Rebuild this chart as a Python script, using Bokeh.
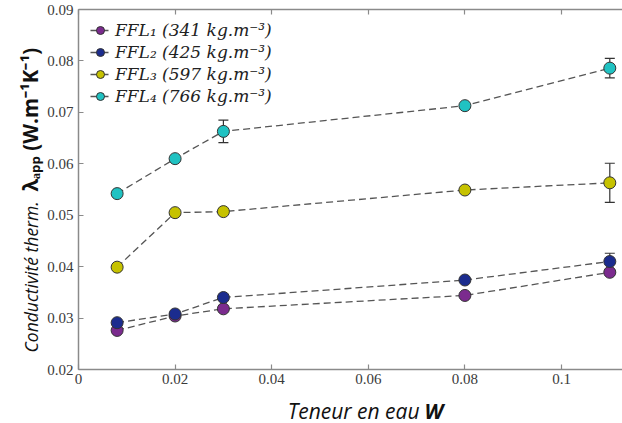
import math
from bokeh.plotting import figure
from bokeh.models import (ColumnDataSource, Whisker, TeeHead, Legend, LegendItem,
                          LinearAxis, FixedTicker, Range1d, Label)
from bokeh.embed import file_html
from bokeh.resources import INLINE

# ---- data ----
w = [0.008, 0.02, 0.03, 0.08, 0.11]
ffl1 = [0.0276, 0.0304, 0.0318, 0.0344, 0.0389]
ffl2 = [0.0291, 0.0308, 0.0340, 0.0374, 0.0410]
ffl3 = [0.0399, 0.0505, 0.0507, 0.0549, 0.0563]
ffl4 = [0.0542, 0.0610, 0.0663, 0.0713, 0.0786]
err1 = [0, 0, 0, 0, 0.0005]
err2 = [0, 0, 0, 0, 0.0016]
err3 = [0, 0, 0, 0, 0.0038]
err4 = [0, 0, 0.0022, 0, 0.0019]
labels = ["FFL\u2081 (341 kg.m\u207b\u00b3)", "FFL\u2082 (425 kg.m\u207b\u00b3)",
          "FFL\u2083 (597 kg.m\u207b\u00b3)", "FFL\u2084 (766 kg.m\u207b\u00b3)"]
colors = ["#7b2b8e", "#1b2c8e", "#c6c200", "#20c2c2"]
x_ticks = [0, 0.02, 0.04, 0.06, 0.08, 0.1]
x_tick_labels = ["0", "0.02", "0.04", "0.06", "0.08", "0.1"]
y_ticks = [0.02, 0.03, 0.04, 0.05, 0.06, 0.07, 0.08, 0.09]
y_tick_labels = ["0.02", "0.03", "0.04", "0.05", "0.06", "0.07", "0.08", "0.09"]
x_title = "Teneur en eau"
x_title_bold = "W"
y_title = "Conductivit\u00e9 therm."
y_title_bold = "\u03bb\u2090\u209a\u209a (W.m\u207b\u00b9K\u207b\u00b9)"

# ---- layout: the frame covers the whole canvas, axes are placed at fixed data positions ----
W, H = 622, 423
left_px, top_px, bottom_px = 78, 9, 369
x0, x1 = 0.0, 0.1
y0, y1 = 0.02, 0.09
kx = (561 - left_px) / (x1 - x0)          # px per unit
ky = (bottom_px - top_px) / (y1 - y0)
xs, xe = x0 - left_px / kx, x0 + (W - left_px) / kx
ys_, ye = y0 - (H - bottom_px) / ky, y1 + top_px / ky

p = figure(width=W, height=H, output_backend="svg", toolbar_location=None,
           x_range=Range1d(xs, xe), y_range=Range1d(ys_, ye),
           x_axis_location=None, y_axis_location=None,
           min_border=0)
p.outline_line_color = None
p.grid.visible = False
p.background_fill_color = "white"
p.border_fill_color = "white"

def style_axis(ax, ticks, tlabels, show_labels=True):
    ax.ticker = FixedTicker(ticks=ticks)
    ax.major_label_overrides = {t: (l if show_labels else "") for t, l in zip(ticks, tlabels)}
    ax.axis_line_color = "#8a8a8a"
    ax.axis_line_width = 1.5
    ax.major_tick_line_color = "#8a8a8a"
    ax.major_tick_line_width = 1.2
    ax.major_tick_in = 5
    ax.major_tick_out = 0
    ax.minor_tick_line_color = None
    ax.major_label_text_font = "Liberation Serif"
    ax.major_label_text_font_size = "15px"
    ax.major_label_text_color = "#3a3a3a"

xa = LinearAxis(fixed_location=y0, bounds=(x0, xe))
style_axis(xa, x_ticks, x_tick_labels)
xa.major_label_standoff = 4
p.add_layout(xa, "below")

ya = LinearAxis(fixed_location=x0, bounds=(y0, y1))
style_axis(ya, y_ticks, y_tick_labels)
ya.major_label_standoff = 5
p.add_layout(ya, "left")

ta = LinearAxis(fixed_location=y1, bounds=(x0, xe))
style_axis(ta, x_ticks, x_tick_labels, show_labels=False)
ta.major_label_text_font_size = "0px"
ta.major_label_standoff = 0
p.add_layout(ta, "above")

items = []
for ys, errs, col, lab in zip([ffl1, ffl2, ffl3, ffl4], [err1, err2, err3, err4], colors, labels):
    src = ColumnDataSource(dict(x=w, y=ys))
    ex = [x for x, e in zip(w, errs) if e > 0]
    ey = [y for y, e in zip(ys, errs) if e > 0]
    ee = [e for e in errs if e > 0]
    esrc = ColumnDataSource(dict(x=ex, lo=[y - e for y, e in zip(ey, ee)], hi=[y + e for y, e in zip(ey, ee)]))
    wh = Whisker(source=esrc, base="x", lower="lo", upper="hi",
                 line_color="#333333", line_width=1.2,
                 upper_head=TeeHead(size=10, line_color="#333333", line_width=1.2),
                 lower_head=TeeHead(size=10, line_color="#333333", line_width=1.2))
    p.add_layout(wh)
    ln = p.line("x", "y", source=src, line_color="#555555", line_width=1.3, line_dash="7 4")
    sc = p.scatter("x", "y", source=src, size=12, fill_color=col, line_color="#333333", line_width=1)
    items.append(LegendItem(label=lab, renderers=[ln, sc]))

leg = Legend(items=items, location=(90, H - 19 - 4 * 22), margin=0, padding=0,
             background_fill_alpha=0, border_line_color=None,
             label_text_font="DejaVu Serif", label_text_font_style="italic",
             label_text_font_size="17px", label_text_color="#222222",
             label_height=22, glyph_height=22, glyph_width=20, spacing=0,
             label_standoff=5)
p.add_layout(leg)

# axis titles (mixed styles), placed in screen pixels converted to data units
def dx(px):
    return xs + px / kx

def dy(py):
    return ye - py / ky

p.add_layout(Label(x=dx(419), y=dy(410), text=x_title, text_font="Open Sans",
                   text_font_style="italic", text_font_size="21px", text_color="#111111",
                   text_baseline="alphabetic", text_align="right"))
p.add_layout(Label(x=dx(424), y=dy(410), text=x_title_bold, text_font="Open Sans",
                   text_font_style="bold italic", text_font_size="21px", text_color="#111111",
                   text_baseline="alphabetic", text_align="left"))
p.add_layout(Label(x=dx(30), y=dy(352), angle=math.pi / 2, text=y_title,
                   text_font="Open Sans", text_font_style="italic", text_font_size="17.5px",
                   text_color="#111111", text_baseline="middle", text_align="left"))
p.add_layout(Label(x=dx(29), y=dy(191), angle=math.pi / 2, text=y_title_bold,
                   text_font="Open Sans", text_font_style="bold", text_font_size="20.5px",
                   text_color="#111111", text_baseline="middle", text_align="left"))

open("out.html", "w").write(file_html(p, INLINE))
